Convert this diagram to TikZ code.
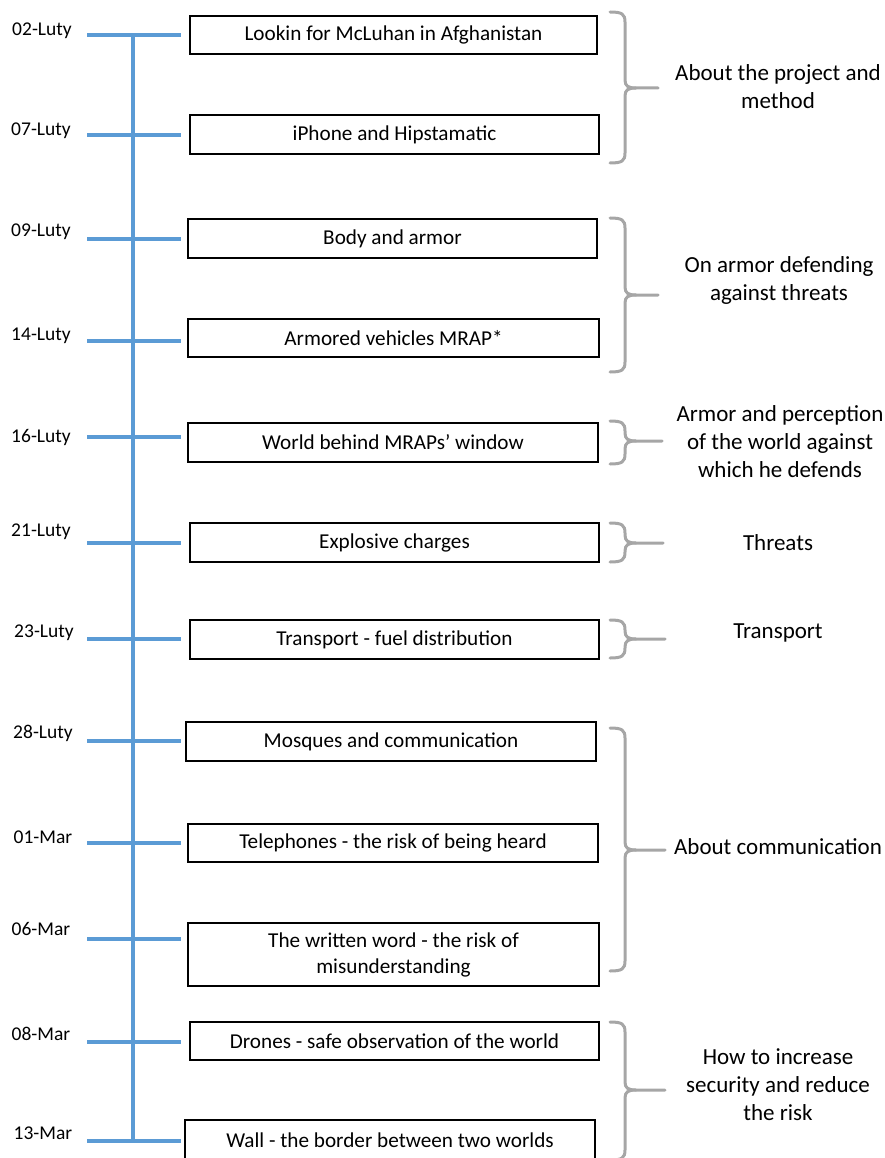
\documentclass[tikz,border=0pt]{standalone}
\usepackage{fontspec}
\setmainfont{Carlito}
\definecolor{tlblue}{HTML}{5B9BD5}
\definecolor{brgray}{HTML}{A6A6A6}
\begin{document}
\begin{tikzpicture}[x=1pt,y=-1pt,
  evbox/.style={draw=black,line width=1.3pt,minimum height=39pt,inner sep=0pt,align=center,font=\fontsize{21.2}{26}\selectfont},
  datelbl/.style={font=\fontsize{19.5}{20}\selectfont,inner sep=0pt},
  grplbl/.style={font=\fontsize{23}{28}\selectfont,align=center,inner sep=0pt},
  tick/.style={draw=tlblue,line width=3.8pt},
  brace/.style={draw=brgray,line width=3pt,line cap=round}]
\useasboundingbox (0,0) rectangle (884,1158);
% timeline axis
\coordinate (top) at (133,35);
\coordinate (bot) at (133,1141);
\draw[tick,line cap=butt] (top) -- (bot);
% ticks
\foreach \n/\y in {a/35,b/135,c/239,d/341,e/437,f/543,g/639,h/741,i/843,j/939,k/1042,l/1141}{
  \coordinate (t\n l) at (87,\y);
  \coordinate (t\n r) at (181,\y);
  \draw[tick] (t\n l) -- (t\n r);
}
% dates
\node[datelbl] (da) at (42,31) {02-Luty};
\node[datelbl] (db) at (41,131) {07-Luty};
\node[datelbl] (dc) at (41,232) {09-Luty};
\node[datelbl] (dd) at (41,336) {14-Luty};
\node[datelbl] (de) at (41,437) {16-Luty};
\node[datelbl] (df) at (41,532) {21-Luty};
\node[datelbl] (dg) at (44,633) {23-Luty};
\node[datelbl] (dh) at (43,733) {28-Luty};
\node[datelbl] (di) at (43,837) {01-Mar};
\node[datelbl] (dj) at (41,929) {06-Mar};
\node[datelbl] (dk) at (41,1034) {08-Mar};
\node[datelbl] (dl) at (43,1133) {13-Mar};
% boxes
\node[evbox,minimum width=407pt,minimum height=38pt] (ba) at (393.5,35) {Lookin for McLuhan in Afghanistan};
\node[evbox,minimum width=409pt] (bb) at (394.5,134.5) {iPhone and Hipstamatic};
\node[evbox,minimum width=409pt] (bc) at (392.5,238.5) {Body and armor};
\node[evbox,minimum width=411pt,minimum height=38pt] (bd) at (393.5,338) {Armored vehicles MRAP*};
\node[evbox,minimum width=410pt] (be) at (393,442.5) {World behind MRAPs’ window};
\node[evbox,minimum width=409pt] (bf) at (394.5,542.5) {Explosive charges};
\node[evbox,minimum width=409pt] (bg) at (394.5,639.5) {Transport - fuel distribution};
\node[evbox,minimum width=410pt] (bh) at (391,741.5) {Mosques and communication};
\node[evbox,minimum width=410pt,minimum height=38pt] (bi) at (393,843) {Telephones - the risk of being heard};
\node[evbox,minimum width=411pt,minimum height=63pt] (bj) at (393.5,954.5) {The written word - the risk of\\misunderstanding};
\node[evbox,minimum width=409pt,minimum height=38pt] (bk) at (394.5,1041) {Drones - safe observation of the world};
\node[evbox,minimum width=410pt,minimum height=40pt] (bl) at (390,1140) {Wall - the border between two worlds};
% braces: #1 top, #2 mid, #3 bottom, #4 pointer end
\newcommand{\grpbrace}[4]{%
  \draw[brace] (610,#1) .. controls (622,#1) and (625,#1+2) .. (625,#1+10)
    -- (625,#2-8) .. controls (625,#2-2) and (628,#2) .. (636,#2) -- (#4,#2);
  \draw[brace] (610,#3) .. controls (622,#3) and (625,#3-2) .. (625,#3-10)
    -- (625,#2+8) .. controls (625,#2+2) and (628,#2) .. (636,#2);}
\grpbrace{12}{88}{163}{658}
\grpbrace{218}{295}{372}{658}
\grpbrace{421}{441}{464}{662}
\grpbrace{523}{543}{562}{663}
\grpbrace{620}{639}{658}{665}
\grpbrace{728}{850}{971}{665}
\grpbrace{1022}{1090}{1160}{665}
% group labels
\node[grplbl] (ga) at (778,87) {About the project and\\method};
\node[grplbl] (gb) at (779,280) {On armor defending\\against threats};
\node[grplbl] (gc) at (780,442) {Armor and perception\\of the world against\\which he defends};
\node[grplbl] (gd) at (778,543) {Threats};
\node[grplbl] (ge) at (778,633) {Transport};
\node[grplbl] (gf) at (778,847) {About communication};
\node[grplbl] (gg) at (778,1085) {How to increase\\security and reduce\\the risk};
\end{tikzpicture}
\end{document}
